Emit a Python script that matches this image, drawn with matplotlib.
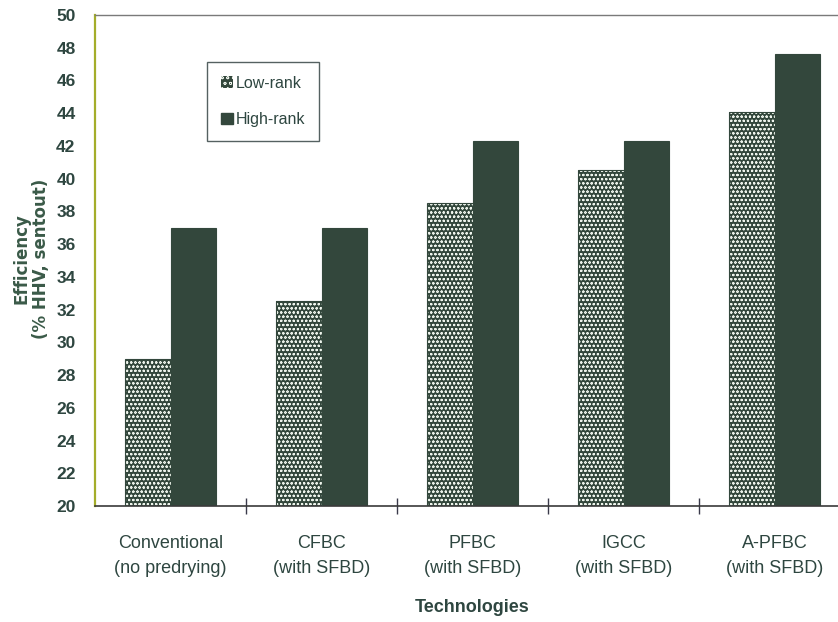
import matplotlib
matplotlib.use("Agg")
import matplotlib.pyplot as plt
from matplotlib.patches import Patch

# Data
technologies = ["Conventional\n(no predrying)", "CFBC\n(with SFBD)", "PFBC\n(with SFBD)",
                "IGCC\n(with SFBD)", "A-PFBC\n(with SFBD)"]
low_rank = [29.0, 32.5, 38.5, 40.5, 44.1]
high_rank = [37.0, 37.0, 42.3, 42.3, 47.6]
y_ticks = list(range(20, 51, 2))

W, H = 838, 622
DARK = "#33473c"
DOT = "#eef4ec"
TEXT = "#2e4640"
FONT = "Liberation Sans"

fig = plt.figure(figsize=(W / 100, H / 100), dpi=100)
# axes in pixel terms: left 95, right 850 (runs past the edge), top 15, bottom 506
ax = fig.add_axes([95 / W, (H - 506) / H, (850 - 95) / W, (506 - 15) / H])

x = list(range(len(technologies)))
bw = 0.30
xl = [i - bw / 2 for i in x]
xh = [i + bw / 2 for i in x]

plt.rcParams["hatch.linewidth"] = 0.5
ax.bar(xl, low_rank, width=bw, facecolor=DARK, edgecolor=DOT,
       hatch="oooo", linewidth=0, zorder=2)
ax.bar(xl, low_rank, width=bw, fill=False, edgecolor=DARK, linewidth=0.8, zorder=3)
ax.bar(xh, high_rank, width=bw, color=DARK, edgecolor=DARK, linewidth=0.8, zorder=2)

ax.set_xlim(-0.5, 4.5)
ax.set_ylim(20, 50)
ax.set_yticks(y_ticks)
ax.set_yticklabels([str(v) for v in y_ticks], fontfamily=FONT, fontweight="bold",
                   fontsize=12.5, color=TEXT)
ax.tick_params(axis="y", length=0, pad=14)

ax.set_xticks(x)
ax.set_xticklabels(technologies, fontfamily=FONT, fontsize=13, color=TEXT,
                   linespacing=1.6)
ax.tick_params(axis="x", which="major", length=0, pad=21)
ax.set_xticks([0.5, 1.5, 2.5, 3.5], minor=True)
ax.tick_params(axis="x", which="minor", length=12, direction="inout", color="#3a3a4a", width=1)

ax.spines["right"].set_visible(False)
ax.spines["left"].set_color("#a4ad2a")
ax.spines["left"].set_linewidth(1.6)
ax.spines["bottom"].set_color("#3a3a3a")
ax.spines["bottom"].set_linewidth(1.2)
ax.spines["top"].set_color("#7a7a7a")
ax.spines["top"].set_linewidth(1.0)

fig.text(31 / W, 1 - 259 / H, "Efficiency\n(% HHV, sentout)", rotation=90,
         ha="center", va="center", fontsize=12, fontweight="bold",
         fontfamily="DejaVu Sans", color="#3a5a48", linespacing=1.1)
fig.text(472 / W, 1 - 607 / H, "Technologies", ha="center", va="center",
         fontsize=13, fontweight="bold", fontfamily=FONT, color=TEXT)

handles = [Patch(facecolor=DARK, edgecolor=DOT, hatch="ooo", linewidth=0),
           Patch(facecolor=DARK, edgecolor=DARK)]
leg = ax.legend(handles, ["Low-rank", "High-rank"], loc="upper left",
                bbox_to_anchor=(207 / W, 1 - 62 / H), bbox_transform=fig.transFigure,
                borderaxespad=0, frameon=True, fancybox=False,
                prop={"family": FONT, "size": 11.5},
                handlelength=0.75, handleheight=0.75, handletextpad=0.2,
                labelspacing=1.35, borderpad=0.85)
leg.get_frame().set_edgecolor("#2a3a3a")
leg.get_frame().set_linewidth(1.0)
for t in leg.get_texts():
    t.set_color(TEXT)

fig.savefig("out.png", dpi=100)
